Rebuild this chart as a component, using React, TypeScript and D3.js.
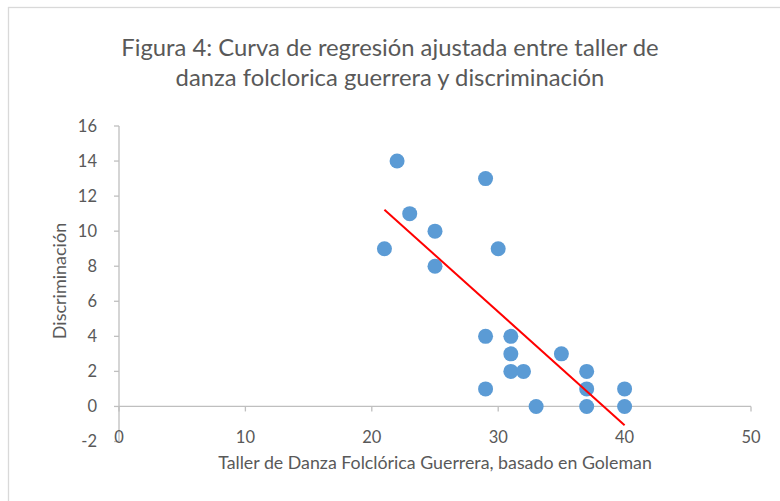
import React from "react";
import * as d3 from "d3";

const titleLines = [
  "Figura 4: Curva de regresión ajustada entre taller de",
  "danza folclorica guerrera y discriminación",
];
const xLabel = "Taller de Danza Folclórica Guerrera, basado en Goleman";
const yLabel = "Discriminación";
const xTicks = [0, 10, 20, 30, 40, 50];
const yTicks = [-2, 0, 2, 4, 6, 8, 10, 12, 14, 16];
const xValues = [21, 22, 23, 25, 25, 29, 30, 29, 29, 31, 31, 31, 32, 33, 35, 37, 37, 37, 40, 40];
const yValues = [9, 14, 11, 10, 8, 13, 9, 4, 1, 4, 3, 2, 2, 0, 3, 2, 1, 0, 1, 0];

const W = 780;
const H = 501;
const FONT = "Lato, 'Open Sans', sans-serif";
const TEXT = "#595959";
const AXIS = "#bfbfbf";

export default function App() {
  const x = d3.scaleLinear().domain([0, 50]).range([119, 751]);
  const y = d3.scaleLinear().domain([-2, 16]).range([441.5, 126]);

  const mx = d3.mean(xValues) as number;
  const my = d3.mean(yValues) as number;
  let sxy = 0;
  let sxx = 0;
  xValues.forEach((v, i) => {
    sxy += (v - mx) * (yValues[i] - my);
    sxx += (v - mx) * (v - mx);
  });
  const slope = sxy / sxx;
  const intercept = my - slope * mx;
  const x0 = d3.min(xValues) as number;
  const x1 = d3.max(xValues) as number;
  const line = d3
    .line<number>()
    .x((d) => x(d))
    .y((d) => y(intercept + slope * d));

  return (
    <svg
      width={W}
      height={H}
      style={{ position: "absolute", left: 0, top: 0, background: "#fff" }}
    >
      <rect x={8.5} y={7.5} width={W + 10} height={H + 10} fill="#fff" stroke="#d9d9d9" strokeWidth={1.3} />
      {titleLines.map((t, i) => (
        <text
          key={i}
          x={390}
          y={56 + i * 30}
          textAnchor="middle"
          fontFamily={FONT}
          fontSize={23.8}
          fontWeight={400}
          fill={TEXT}
        >
          {t}
        </text>
      ))}
      {/* y axis */}
      <line x1={x(0)} x2={x(0)} y1={y(16)} y2={y(-2)} stroke={AXIS} strokeWidth={1.3} />
      {yTicks.map((t) => (
        <g key={t}>
          <line x1={x(0) - 5} x2={x(0)} y1={y(t)} y2={y(t)} stroke={AXIS} strokeWidth={1.3} />
          <text
            x={97}
            y={y(t)}
            dy="0.35em"
            textAnchor="end"
            fontFamily={FONT}
            fontSize={16.5}
            fill={TEXT}
          >
            {t}
          </text>
        </g>
      ))}
      {/* x axis */}
      <line x1={x(0)} x2={x(50)} y1={y(0)} y2={y(0)} stroke={AXIS} strokeWidth={1.3} />
      {xTicks.map((t) => (
        <g key={t}>
          <line x1={x(t)} x2={x(t)} y1={y(0)} y2={y(0) + 5} stroke={AXIS} strokeWidth={1.3} />
          <text
            x={x(t)}
            y={443}
            textAnchor="middle"
            fontFamily={FONT}
            fontSize={16.5}
            fill={TEXT}
          >
            {t}
          </text>
        </g>
      ))}
      <text
        x={435}
        y={469}
        textAnchor="middle"
        fontFamily={FONT}
        fontSize={17.8}
        fill={TEXT}
      >
        {xLabel}
      </text>
      <text
        transform={`translate(66, 281) rotate(-90)`}
        textAnchor="middle"
        fontFamily={FONT}
        fontSize={18}
        fill={TEXT}
      >
        {yLabel}
      </text>
      {xValues.map((v, i) => (
        <circle key={i} cx={x(v)} cy={y(yValues[i])} r={7.5} fill="#5b9bd5" />
      ))}
      <path d={line([x0, x1]) as string} fill="none" stroke="#ff0000" strokeWidth={2} />
    </svg>
  );
}
